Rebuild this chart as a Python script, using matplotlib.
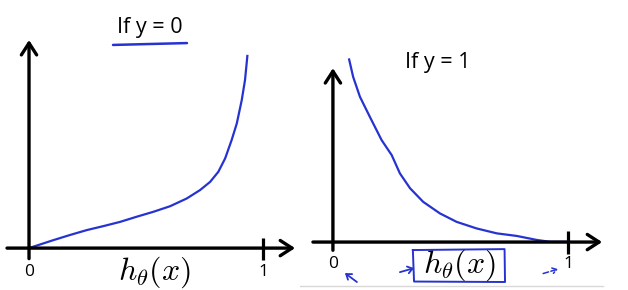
import matplotlib
matplotlib.use("Agg")
import matplotlib.pyplot as plt

plt.rcParams['mathtext.fontset'] = 'cm'

# Left panel: cost when y = 0
h_left = [0.0, 0.104, 0.175, 0.247, 0.318, 0.389, 0.460, 0.531, 0.603, 0.674, 0.731,
          0.774, 0.809, 0.838, 0.866, 0.888, 0.909, 0.923, 0.930, 0.933]
cost_left = [0.0, 0.034, 0.056, 0.077, 0.094, 0.112, 0.134, 0.155, 0.179, 0.212, 0.248,
             0.283, 0.326, 0.383, 0.462, 0.533, 0.632, 0.718, 0.789, 0.821]

# Right panel: cost when y = 1
h_right = [0.069, 0.086, 0.115, 0.157, 0.207, 0.250, 0.285, 0.328, 0.384, 0.455, 0.526,
           0.611, 0.697, 0.782, 0.867, 0.923, 1.0]
cost_right = [0.777, 0.703, 0.618, 0.533, 0.434, 0.370, 0.292, 0.229, 0.171, 0.122, 0.086,
              0.058, 0.037, 0.026, 0.009, 0.001, 0.001]

titles = ["If y = 0", "If y = 1"]
tick_labels = ["0", "1"]
xlabel = r"$h_\theta(x)$"

W, H = 628, 290
fig = plt.figure(figsize=(W / 100, H / 100), dpi=100)
fig.patch.set_facecolor('white')

blue = '#2633d0'
black = '#000000'

axL = fig.add_axes([0, 0, 300 / W, 1])
axR = fig.add_axes([300 / W, 0, 328 / W, 1])
axL.set_xlim(-0.124, 1.158)
axL.set_ylim(-0.179, 1.060)
axR.set_xlim(-0.140, 1.255)
axR.set_ylim(-0.204, 1.030)
for ax in (axL, axR):
    ax.axis('off')

def draw_axes(ax, x0, x1, ytop, ybot):
    style = dict(arrowstyle='->,head_length=0.85,head_width=0.55', lw=2.4, color=black,
                 shrinkA=0, shrinkB=0)
    ax.annotate('', xy=(x1, 0), xytext=(x0, 0), arrowprops=style)
    ax.annotate('', xy=(0, ytop), xytext=(0, ybot), arrowprops=style)
    ax.plot([1, 1], [-0.05, 0.045], color=black, lw=2.3, solid_capstyle='butt')

fam = ['Open Sans']

# Left panel
draw_axes(axL, -0.094, 1.137, 0.889, -0.045)
axL.plot(h_left, cost_left, color=blue, lw=1.6)
axL.text(0.517, 0.944, titles[0], fontsize=15.5, ha='center', va='center', family=fam)
axL.plot([0.359, 0.675], [0.868, 0.876], color=blue, lw=1.8, solid_capstyle='round')
axL.text(0, -0.103, tick_labels[0], fontsize=12.5, ha='center', va='center', family=fam)
axL.text(1, -0.103, tick_labels[1], fontsize=12.5, ha='center', va='center', family=fam)
axL.text(0.538, -0.103, xlabel, fontsize=23, ha='center', va='center')

# Right panel
draw_axes(axR, -0.085, 1.145, 0.740, -0.035)
axR.plot(h_right, cost_right, color=blue, lw=1.6)
axR.text(0.447, 0.766, titles[1], fontsize=15.5, ha='center', va='center', family=fam)
axR.text(0, -0.094, tick_labels[0], fontsize=12.5, ha='center', va='center', family=fam)
axR.text(1, -0.094, tick_labels[1], fontsize=12.5, ha='center', va='center', family=fam)
axR.text(0.540, -0.098, xlabel, fontsize=23, ha='center', va='center')
# hand-drawn box around h_theta(x)
axR.plot([0.34, 0.73, 0.732, 0.345, 0.34], [-0.034, -0.030, -0.170, -0.168, -0.034],
         color=blue, lw=1.4)
# small hand-drawn arrows
axR.annotate('', xy=(0.051, -0.132), xytext=(0.102, -0.170),
             arrowprops=dict(arrowstyle='->,head_length=0.35,head_width=0.25', lw=1.3, color=blue,
                             shrinkA=0, shrinkB=0))
axR.annotate('', xy=(0.345, -0.111), xytext=(0.285, -0.128),
             arrowprops=dict(arrowstyle='->,head_length=0.35,head_width=0.25', lw=1.3, color=blue,
                             shrinkA=0, shrinkB=0))
axR.annotate('', xy=(0.957, -0.115), xytext=(0.894, -0.134),
             arrowprops=dict(arrowstyle='->,head_length=0.3,head_width=0.2', lw=1.1, color=blue,
                             linestyle='--', shrinkA=0, shrinkB=0))
axR.plot([-0.14, 1.15], [-0.185, -0.185], color='#d8d8d8', lw=1.0)

fig.savefig('out.png', dpi=100, facecolor='white')
